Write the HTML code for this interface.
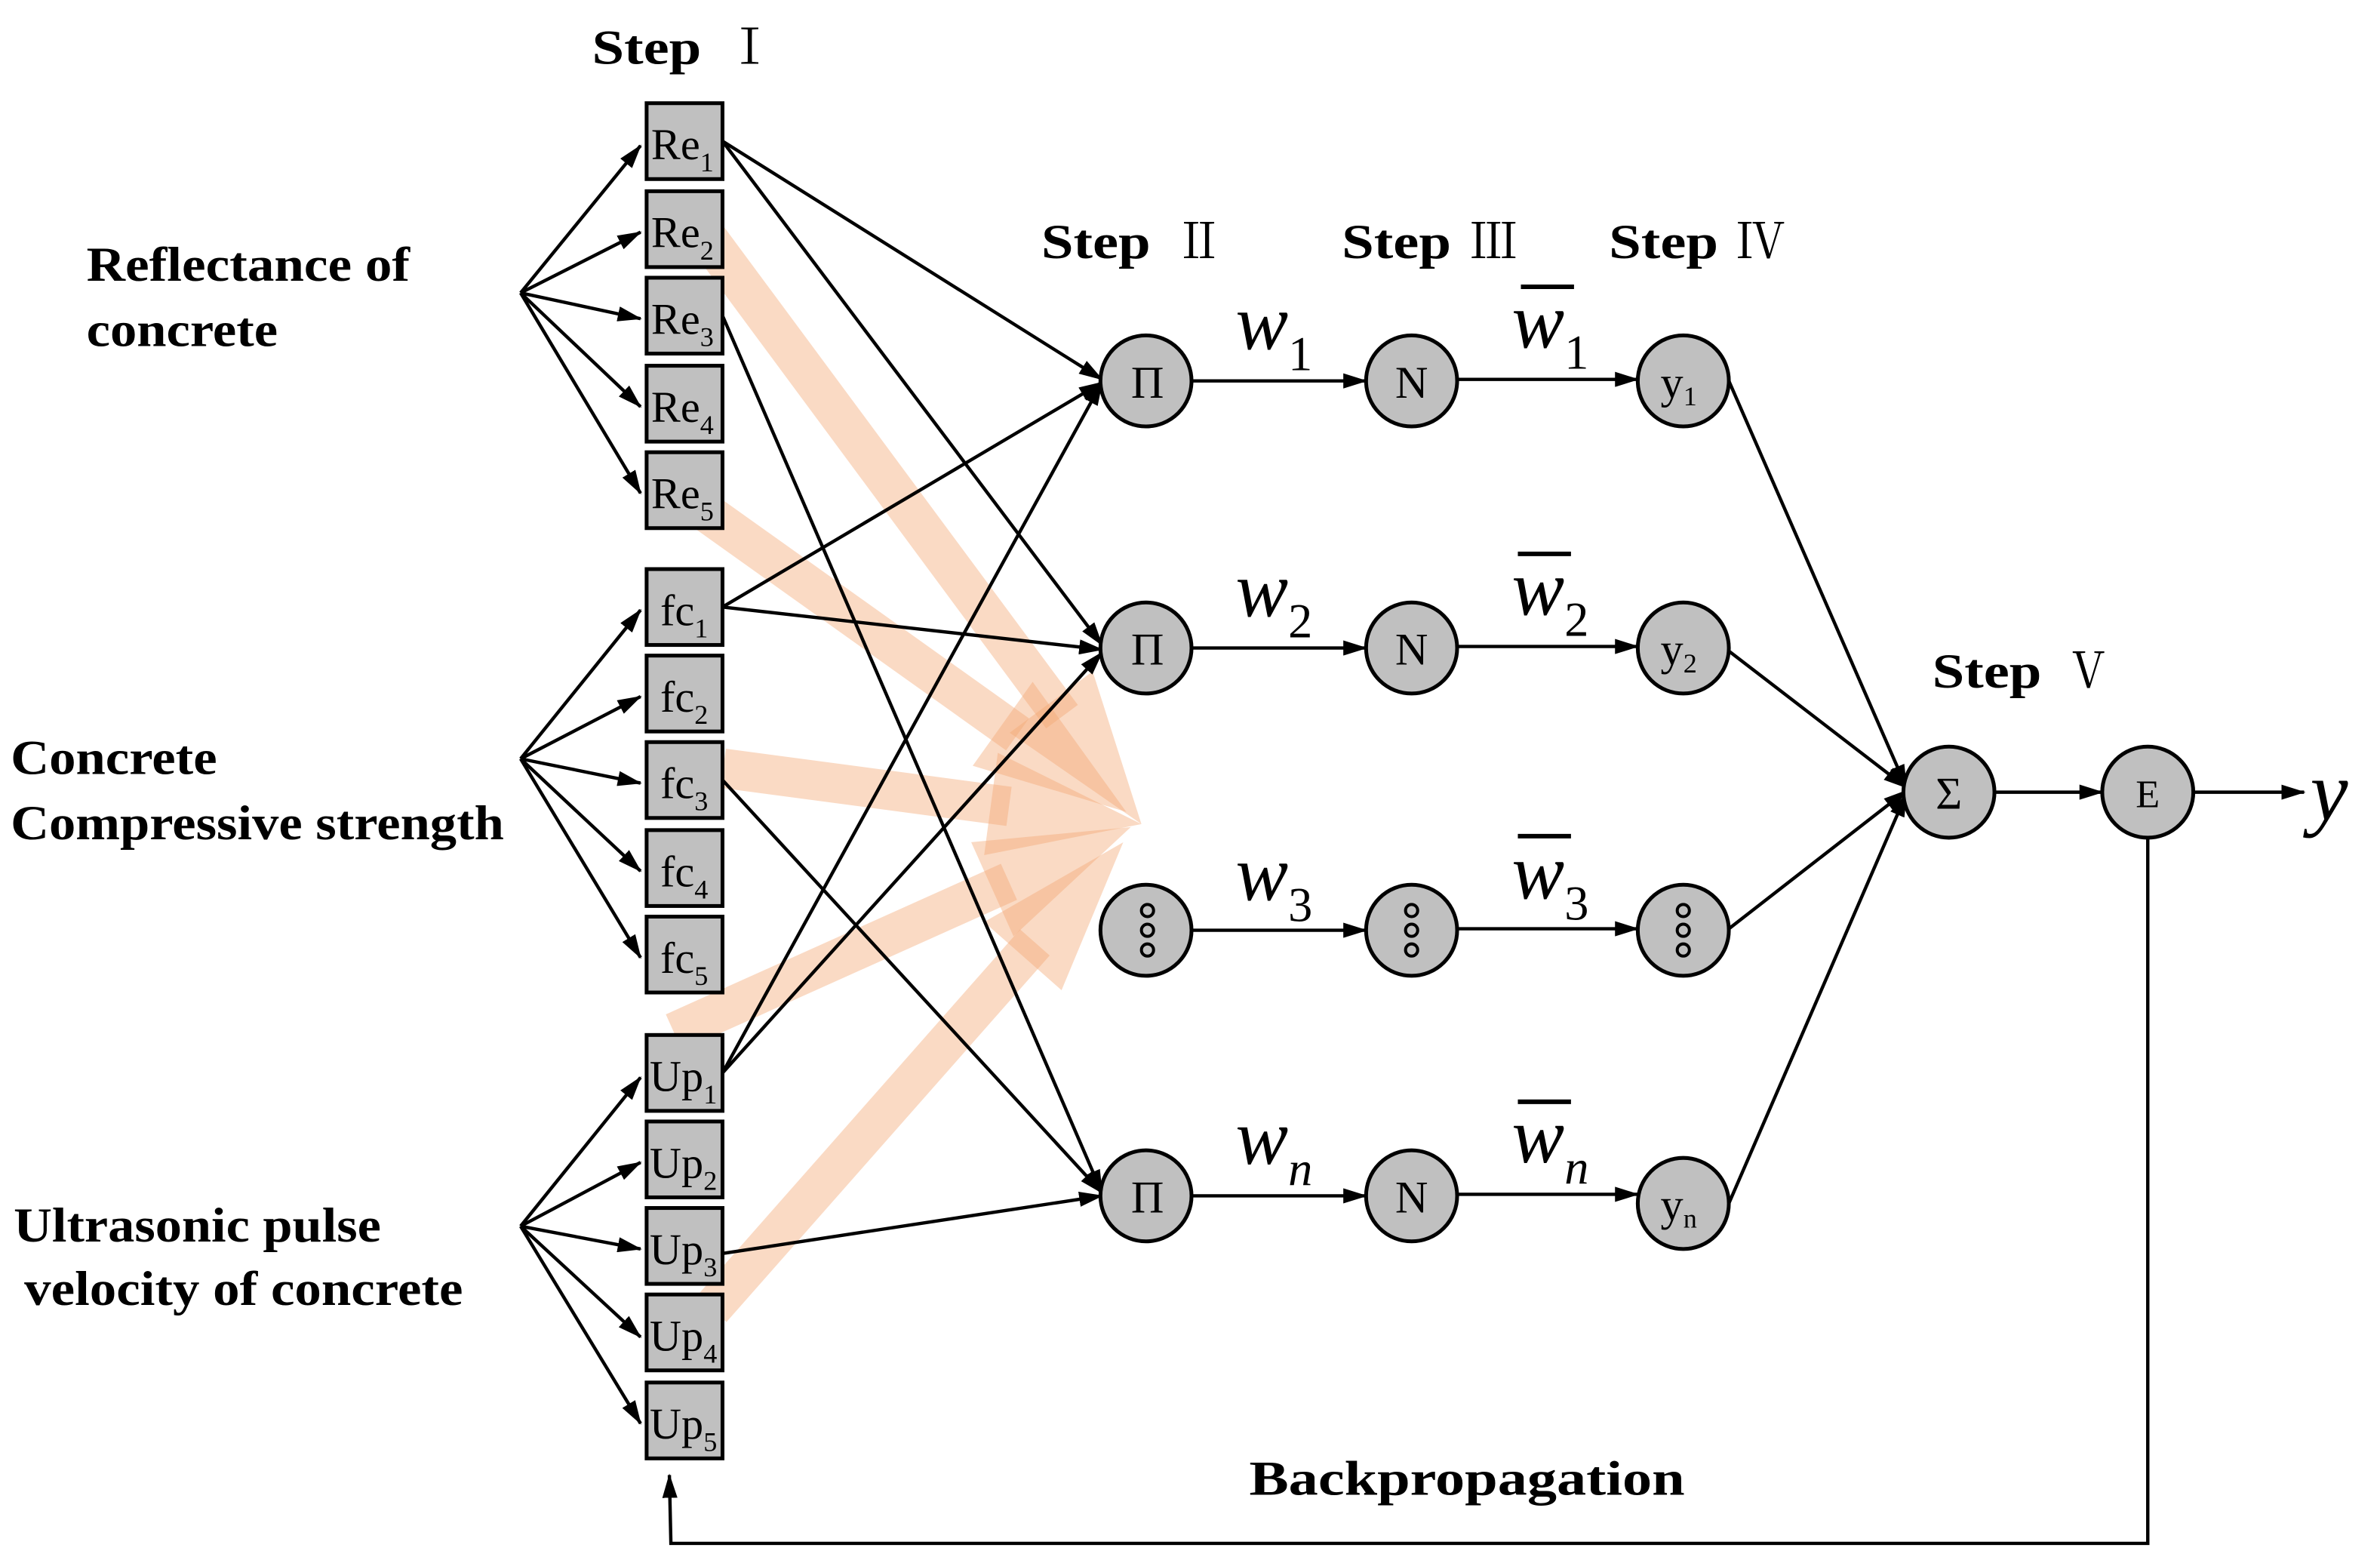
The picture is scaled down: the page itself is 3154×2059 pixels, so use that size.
<!DOCTYPE html>
<html><head><meta charset="utf-8"><style>
html,body{margin:0;padding:0;background:#fff;}
svg{display:block;}
text{font-family:"Liberation Serif",serif;}
.rn{font-family:"Noto Serif CJK SC","Liberation Serif",serif;font-weight:normal;}
.b{font-weight:bold;font-size:32px;}
.bx{font-size:29px;}
.sb{font-size:18px;}
.cl{font-size:30px;}
.w{font-style:italic;font-size:52px;}
.ws{font-size:32px;font-style:normal;}
.wn{font-size:32px;font-style:italic;}
</style></head><body>
<svg width="3154" height="2059" viewBox="0 0 1568 1024" preserveAspectRatio="none" xmlns="http://www.w3.org/2000/svg" font-family="Liberation Serif, serif">
<defs>
<marker id="a" markerWidth="16" markerHeight="10" refX="15" refY="5" orient="auto" markerUnits="userSpaceOnUse"><path d="M0,0 L16,5 L0,10 z" fill="#000"/></marker>
</defs>
<rect width="1568" height="1024" fill="#fff"/>
<g fill="#f3a673" fill-opacity="0.42">
<g transform="translate(752,543) rotate(53.5)"><rect x="-488" y="-13" width="400" height="26"/><polygon points="-100,-34 0,0 -100,34"/></g>
<g transform="translate(742,535) rotate(35.5)"><rect x="-352" y="-13" width="264" height="26"/><polygon points="-100,-34 0,0 -100,34"/></g>
<g transform="translate(752,543) rotate(7.6)"><rect x="-278" y="-13" width="190" height="26"/><polygon points="-100,-34 0,0 -100,34"/></g>
<g transform="translate(745,545) rotate(-24.2)"><rect x="-330" y="-13" width="242" height="26"/><polygon points="-100,-34 0,0 -100,34"/></g>
<g transform="translate(740,555) rotate(-48.6)"><rect x="-410" y="-13" width="322" height="26"/><polygon points="-100,-34 0,0 -100,34"/></g>
</g>
<g stroke="#000" stroke-width="2.2" fill="none" marker-end="url(#a)">
<line x1="343" y1="193" x2="422" y2="96"/><line x1="343" y1="193" x2="422" y2="153"/><line x1="343" y1="193" x2="422" y2="210"/><line x1="343" y1="193" x2="422" y2="268"/><line x1="343" y1="193" x2="422" y2="325"/>
<line x1="343" y1="500" x2="422" y2="402"/><line x1="343" y1="500" x2="422" y2="459"/><line x1="343" y1="500" x2="422" y2="516"/><line x1="343" y1="500" x2="422" y2="574"/><line x1="343" y1="500" x2="422" y2="631"/>
<line x1="343" y1="808" x2="422" y2="710"/><line x1="343" y1="808" x2="422" y2="766"/><line x1="343" y1="808" x2="422" y2="823"/><line x1="343" y1="808" x2="422" y2="881"/><line x1="343" y1="808" x2="422" y2="938"/>
<line x1="476" y1="93" x2="726" y2="250"/><line x1="476" y1="93" x2="726" y2="425"/><line x1="476" y1="208" x2="726" y2="786"/>
<line x1="476" y1="400" x2="726" y2="252"/><line x1="476" y1="400" x2="726" y2="428"/><line x1="476" y1="514" x2="726" y2="786"/>
<line x1="476" y1="707" x2="726" y2="252"/><line x1="476" y1="707" x2="726" y2="430"/><line x1="476" y1="826" x2="726" y2="788"/>
<line x1="785" y1="251" x2="900" y2="251"/><line x1="960" y1="250" x2="1079" y2="250"/>
<line x1="785" y1="427" x2="900" y2="427"/><line x1="960" y1="426" x2="1079" y2="426"/>
<line x1="785" y1="613" x2="900" y2="613"/><line x1="960" y1="612" x2="1079" y2="612"/>
<line x1="785" y1="788" x2="900" y2="788"/><line x1="960" y1="787" x2="1079" y2="787"/>
<line x1="1139" y1="251" x2="1256" y2="519"/><line x1="1139" y1="429" x2="1256" y2="519"/><line x1="1139" y1="612" x2="1256" y2="521"/><line x1="1139" y1="793" x2="1256" y2="523"/>
<line x1="1314" y1="522" x2="1385" y2="522"/><line x1="1445" y1="522" x2="1518" y2="522"/>
<polyline points="1415,552 1415,1017 442,1017 441,972"/>
</g>
<g fill="#c0c0c0" stroke="#000" stroke-width="2.5">
<rect x="426" y="68" width="50" height="50"/><rect x="426" y="126" width="50" height="50"/><rect x="426" y="183" width="50" height="50"/><rect x="426" y="241" width="50" height="50"/><rect x="426" y="298" width="50" height="50"/>
<rect x="426" y="375" width="50" height="50"/><rect x="426" y="432" width="50" height="50"/><rect x="426" y="489" width="50" height="50"/><rect x="426" y="547" width="50" height="50"/><rect x="426" y="604" width="50" height="50"/>
<rect x="426" y="682" width="50" height="50"/><rect x="426" y="739" width="50" height="50"/><rect x="426" y="796" width="50" height="50"/><rect x="426" y="853" width="50" height="50"/><rect x="426" y="911" width="50" height="50"/>
</g>
<g class="bx">
<text x="429" y="105">Re<tspan class="sb" dy="8">1</tspan></text>
<text x="429" y="163">Re<tspan class="sb" dy="8">2</tspan></text>
<text x="429" y="220">Re<tspan class="sb" dy="8">3</tspan></text>
<text x="429" y="278">Re<tspan class="sb" dy="8">4</tspan></text>
<text x="429" y="335">Re<tspan class="sb" dy="8">5</tspan></text>
<text x="435" y="412">fc<tspan class="sb" dy="8">1</tspan></text>
<text x="435" y="469">fc<tspan class="sb" dy="8">2</tspan></text>
<text x="435" y="526">fc<tspan class="sb" dy="8">3</tspan></text>
<text x="435" y="584">fc<tspan class="sb" dy="8">4</tspan></text>
<text x="435" y="641">fc<tspan class="sb" dy="8">5</tspan></text>
<text x="428" y="719">Up<tspan class="sb" dy="8">1</tspan></text>
<text x="428" y="776">Up<tspan class="sb" dy="8">2</tspan></text>
<text x="428" y="833">Up<tspan class="sb" dy="8">3</tspan></text>
<text x="428" y="890">Up<tspan class="sb" dy="8">4</tspan></text>
<text x="428" y="948">Up<tspan class="sb" dy="8">5</tspan></text>
</g>
<g fill="#c0c0c0" stroke="#000" stroke-width="2.5">
<circle cx="755" cy="251" r="30"/><circle cx="755" cy="427" r="30"/><circle cx="755" cy="613" r="30"/><circle cx="755" cy="788" r="30"/>
<circle cx="930" cy="251" r="30"/><circle cx="930" cy="427" r="30"/><circle cx="930" cy="613" r="30"/><circle cx="930" cy="788" r="30"/>
<circle cx="1109" cy="251" r="30"/><circle cx="1109" cy="427" r="30"/><circle cx="1109" cy="613" r="30"/><circle cx="1109" cy="793" r="30"/>
<circle cx="1284" cy="522" r="30"/><circle cx="1415" cy="522" r="30"/>
</g>
<g fill="none" stroke="#000" stroke-width="2">
<circle cx="756" cy="600" r="4"/><circle cx="756" cy="613" r="4"/><circle cx="756" cy="626" r="4"/>
<circle cx="930" cy="600" r="4"/><circle cx="930" cy="613" r="4"/><circle cx="930" cy="626" r="4"/>
<circle cx="1109" cy="600" r="4"/><circle cx="1109" cy="613" r="4"/><circle cx="1109" cy="626" r="4"/>
</g>
<g class="cl" text-anchor="middle">
<text x="756" y="262">Π</text><text x="756" y="438">Π</text><text x="756" y="799">Π</text>
<text x="930" y="262">N</text><text x="930" y="438">N</text><text x="930" y="799">N</text>
<text x="1106" y="262">y<tspan font-size="18" dy="5">1</tspan></text>
<text x="1106" y="438">y<tspan font-size="18" dy="5">2</tspan></text>
<text x="1106" y="804">y<tspan font-size="18" dy="5">n</tspan></text>
<text x="1284" y="533">Σ</text><text x="1415" y="532" font-size="26">E</text>
</g>
<text class="w" x="814" y="230">w<tspan class="ws" dy="14">1</tspan></text>
<text class="w" x="814" y="406">w<tspan class="ws" dy="14">2</tspan></text>
<text class="w" x="814" y="593">w<tspan class="ws" dy="14">3</tspan></text>
<text class="w" x="814" y="767">w<tspan class="wn" dy="14">n</tspan></text>
<text class="w" x="996" y="229">w<tspan class="ws" dy="14">1</tspan></text>
<text class="w" x="996" y="405">w<tspan class="ws" dy="14">2</tspan></text>
<text class="w" x="996" y="592">w<tspan class="ws" dy="14">3</tspan></text>
<text class="w" x="996" y="766">w<tspan class="wn" dy="14">n</tspan></text>
<g stroke="#000" stroke-width="3">
<line x1="1002" y1="189" x2="1037" y2="189"/><line x1="1000" y1="365" x2="1035" y2="365"/><line x1="1000" y1="551" x2="1035" y2="551"/><line x1="1000" y1="726" x2="1035" y2="726"/>
</g>
<text x="1522" y="540" font-style="italic" font-size="56">y</text>
<text class="b" x="390" y="42" textLength="72" lengthAdjust="spacingAndGlyphs">Step</text><text class="rn" x="478" y="42" font-size="32">Ⅰ</text>
<text class="b" x="686" y="170" textLength="72" lengthAdjust="spacingAndGlyphs">Step</text><text class="rn" x="774" y="170" font-size="32">Ⅱ</text>
<text class="b" x="884" y="170" textLength="72" lengthAdjust="spacingAndGlyphs">Step</text><text class="rn" x="968" y="170" font-size="32">Ⅲ</text>
<text class="b" x="1060" y="170" textLength="72" lengthAdjust="spacingAndGlyphs">Step</text><text class="rn" x="1144" y="170" font-size="32">Ⅳ</text>
<text class="b" x="1273" y="453" textLength="72" lengthAdjust="spacingAndGlyphs">Step</text><text class="rn" x="1360" y="453" font-size="32">Ⅴ</text>
<text class="b" x="823" y="985" textLength="287" lengthAdjust="spacingAndGlyphs">Backpropagation</text>
<g class="b" font-size="32">
<text x="57" y="185" textLength="213" lengthAdjust="spacingAndGlyphs">Reflectance of</text>
<text x="57" y="228" textLength="126" lengthAdjust="spacingAndGlyphs">concrete</text>
<text x="7" y="510" textLength="136" lengthAdjust="spacingAndGlyphs">Concrete</text>
<text x="7" y="553" textLength="325" lengthAdjust="spacingAndGlyphs">Compressive strength</text>
<text x="9" y="818" textLength="242" lengthAdjust="spacingAndGlyphs">Ultrasonic pulse</text>
<text x="16" y="860" textLength="289" lengthAdjust="spacingAndGlyphs">velocity of concrete</text>
</g>
</svg>
</body></html>
